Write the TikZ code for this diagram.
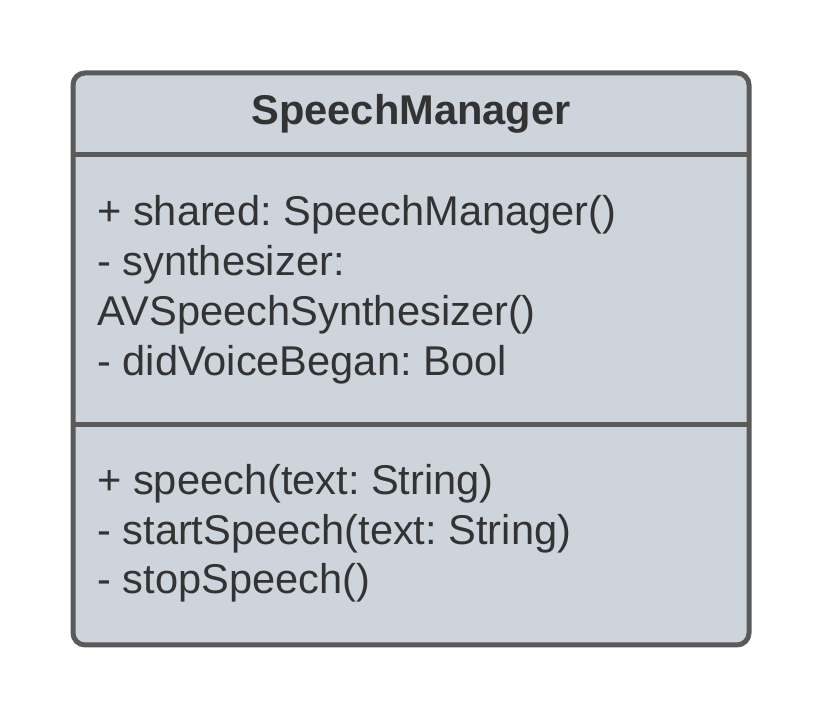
\documentclass[tikz,border=0pt]{standalone}
\usepackage{fontspec}
\setmainfont{Liberation Sans}
\frenchspacing
\usetikzlibrary{positioning}
\usetikzlibrary{calc}

\definecolor{classfill}{HTML}{CED4DC}
\definecolor{classline}{HTML}{5A5A5A}
\definecolor{classtext}{HTML}{333333}

\tikzset{
  member/.style={anchor=base west, inner sep=0pt, text=classtext,
    font=\fontsize{31.2}{37}\selectfont},
  classname/.style={anchor=base, inner sep=0pt, text=classtext,
    font=\fontsize{31.2}{37}\selectfont\bfseries}
}

\begin{document}
\begin{tikzpicture}[x=0.75pt,y=0.75pt]
		\useasboundingbox (0,0) rectangle (825,720);

		% Define the corners of the class box
		\coordinate (NW) at (73,647);
		\coordinate (SE) at (749,75);
		\coordinate (L1) at (73,565);
		\coordinate (R1) at (749,565);
		\coordinate (L2) at (73,295);
		\coordinate (R2) at (749,295);

		% Draw the box and the dividers
		\draw[classline, fill=classfill, line width=3.75pt, rounded corners=9pt] (NW) rectangle (SE);
		\draw[classline, line width=3.75pt] (L1) -- (R1);
		\draw[classline, line width=3.75pt] (L2) -- (R2);

		\node[classname] (title) at (411,595) {SpeechManager};

		% Attributes
		\foreach \n/\y/\txt in {1/494/{+ shared: SpeechManager()},
				2/444/{- synthesizer:},
				3/394/{AVSpeechSynthesizer()},
				4/344/{- didVoiceBegan: Bool}}
			\node[member] (attr\n) at (97,\y) {\txt};

		% Methods
		\foreach \n/\y/\txt in {1/225/{+ speech(text: String)},
				2/175/{- startSpeech(text: String)},
				3/126/{- stopSpeech()}}
			\node[member] (meth\n) at (97,\y) {\txt};
	\end{tikzpicture}
\end{document}
